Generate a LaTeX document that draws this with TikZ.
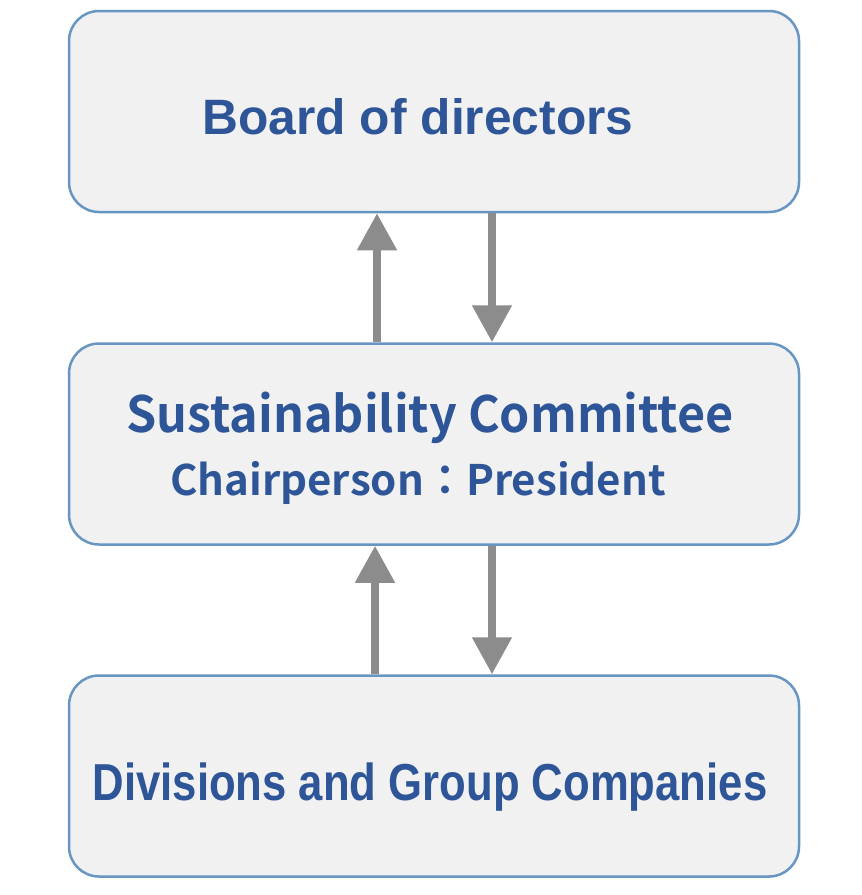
\documentclass[tikz,border=0pt]{standalone}
\usepackage{fontspec}
\setmainfont{Liberation Sans}
\newfontfamily\jpmed{Noto Sans CJK JP Bold}
\newfontfamily\jpbold{Noto Sans CJK JP Bold}
\usetikzlibrary{arrows.meta}
\definecolor{boxfill}{HTML}{F1F1F1}
\definecolor{boxline}{HTML}{6796C2}
\definecolor{txtblue}{HTML}{2D5597}
\definecolor{arrgray}{HTML}{8C8C8C}
\tikzset{
  box/.style={draw=boxline, fill=boxfill, line width=2.5pt, rounded corners=30pt,
    minimum width=730pt, minimum height=201pt, inner sep=0pt},
  lbl/.style={text=txtblue, inner sep=0pt, anchor=base},
  arr/.style={draw=arrgray, line width=8pt,
    -{Triangle[length=37pt, width=38pt]}, shorten >=0pt},
}
\begin{document}
\begin{tikzpicture}[x=1pt, y=-1pt]
\useasboundingbox[fill=white] (0,0) rectangle (862,895);
\node[box] (top) at (434,111.5) {};
\node[box] (mid) at (434,444) {};
\node[box] (bot) at (434,776) {};
\node[lbl, font=\bfseries\fontsize{49.7}{50}\selectfont] (t1) at (418,134) {Board of directors};
\node[lbl, font=\jpmed\fontsize{50}{50}\selectfont] (t2) at (430,432) {\scalebox{0.97}[1]{Sustainability Committee}};
\node[lbl, font=\jpbold\fontsize{42}{42}\selectfont] (t3) at (418,495) {Chairperson：President};
\node[lbl, font=\bfseries\fontsize{52}{52}\selectfont] (t4) at (430,800) {\scalebox{0.84}[1]{Divisions and Group Companies}};
\coordinate (u1) at (377,0);
\coordinate (d1) at (492,0);
\coordinate (u2) at (375,0);
\coordinate (d2) at (492,0);
\draw[arr] (mid.north -| u1) -- (top.south -| u1);
\draw[arr] (top.south -| d1) -- (mid.north -| d1);
\draw[arr] (bot.north -| u2) -- (mid.south -| u2);
\draw[arr] (mid.south -| d2) -- (bot.north -| d2);
\end{tikzpicture}
\end{document}
